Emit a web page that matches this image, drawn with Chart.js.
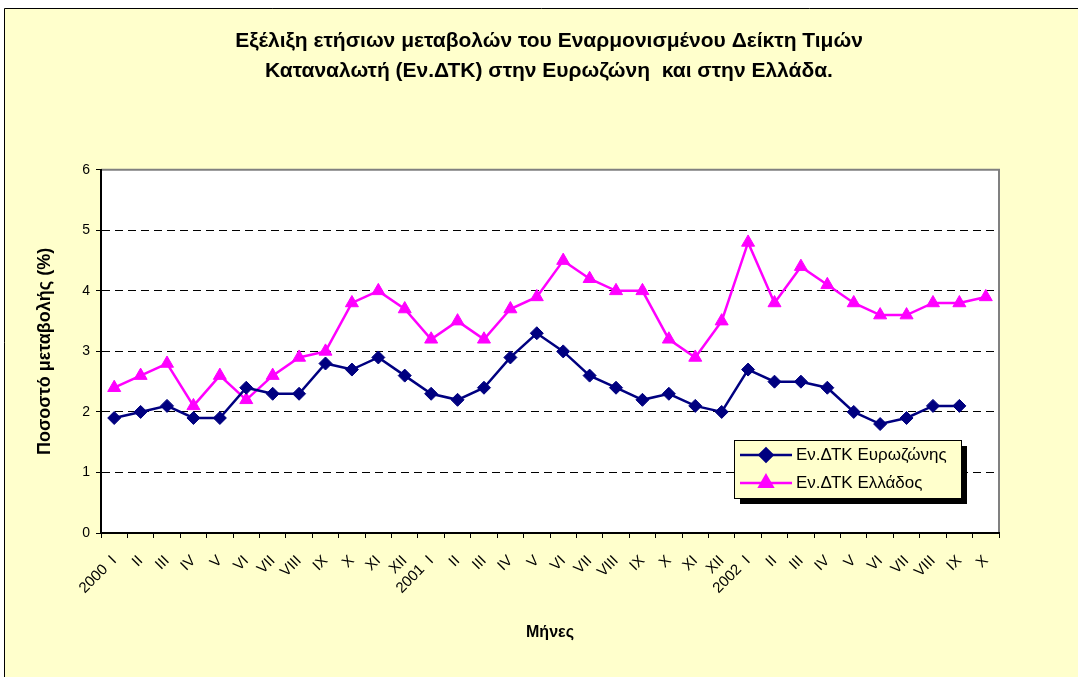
<!DOCTYPE html>
<html>
<head>
<meta charset="utf-8">
<script src="https://cdn.jsdelivr.net/npm/chart.js@4/dist/chart.umd.min.js"></script>
<style>
    body { margin: 0; background: #ffffff; }
    canvas { display: block; }
</style>
</head>
<body>
<canvas id="graficoEvdtk" width="1078" height="677"></canvas>
<script>
const titulo = [
    "Εξέλιξη ετήσιων μεταβολών του Εναρμονισμένου Δείκτη Τιμών",
    "Καταναλωτή (Εν.ΔΤΚ) στην Ευρωζώνη  και στην Ελλάδα."
];

const meses = [
    "2000  I", "II", "III", "IV", "V", "VI", "VII", "VIII", "IX", "X", "XI", "XII",
    "2001  I", "II", "III", "IV", "V", "VI", "VII", "VIII", "IX", "X", "XI", "XII",
    "2002  I", "II", "III", "IV", "V", "VI", "VII", "VIII", "IX", "X"
];

const eurozona = [
    1.9, 2.0, 2.1, 1.9, 1.9, 2.4, 2.3, 2.3, 2.8, 2.7, 2.9, 2.6,
    2.3, 2.2, 2.4, 2.9, 3.3, 3.0, 2.6, 2.4, 2.2, 2.3, 2.1, 2.0,
    2.7, 2.5, 2.5, 2.4, 2.0, 1.8, 1.9, 2.1, 2.1, null
];

const grecia = [
    2.4, 2.6, 2.8, 2.1, 2.6, 2.2, 2.6, 2.9, 3.0, 3.8, 4.0, 3.7,
    3.2, 3.5, 3.2, 3.7, 3.9, 4.5, 4.2, 4.0, 4.0, 3.2, 2.9, 3.5,
    4.8, 3.8, 4.4, 4.1, 3.8, 3.6, 3.6, 3.8, 3.8, 3.9
];

const nomesSeries = ["Εν.ΔΤΚ Ευρωζώνης", "Εν.ΔΤΚ Ελλάδος"];
const tituloY = "Ποσοστό μεταβολής (%)";
const tituloX = "Μήνες";
const ticksY = [0, 1, 2, 3, 4, 5, 6];

const fonte = "'Liberation Sans', Arial, sans-serif";
Chart.defaults.font.family = fonte;
Chart.defaults.color = "#000000";

// fundo amarelo, moldura e área do gráfico
const molduraPlugin = {
    id: "moldura",
    beforeDraw(chart) {
        const ctx = chart.ctx;
        const area = chart.chartArea;
        ctx.save();
        ctx.fillStyle = "#ffffff";
        ctx.fillRect(0, 0, chart.width, chart.height);
        ctx.fillStyle = "#FFFFCC";
        ctx.fillRect(4, 8, chart.width - 4, chart.height - 8);
        ctx.strokeStyle = "#000000";
        ctx.lineWidth = 1;
        ctx.beginPath();
        ctx.moveTo(4.5, chart.height);
        ctx.lineTo(4.5, 8.5);
        ctx.lineTo(chart.width, 8.5);
        ctx.stroke();

        ctx.fillStyle = "#ffffff";
        ctx.fillRect(area.left, area.top, area.width, area.height);
        ctx.strokeStyle = "#808080";
        ctx.lineWidth = 2;
        ctx.beginPath();
        ctx.moveTo(area.left, area.top);
        ctx.lineTo(area.right, area.top);
        ctx.lineTo(area.right, area.bottom);
        ctx.stroke();
        ctx.restore();
    }
};

// legenda dentro da área, com sombra
const legendaPlugin = {
    id: "legendaCaixa",
    afterDraw(chart) {
        const ctx = chart.ctx;
        const area = chart.chartArea;
        const x = area.right - 265;
        const y = area.bottom - 93;
        const w = 227;
        const h = 58;
        ctx.save();
        ctx.fillStyle = "#000000";
        ctx.fillRect(x + 6, y + 6, w, h);
        ctx.fillStyle = "#FFFFCC";
        ctx.fillRect(x, y, w, h);
        ctx.strokeStyle = "#000000";
        ctx.lineWidth = 1;
        ctx.strokeRect(x + 0.5, y + 0.5, w, h);

        chart.data.datasets.forEach((ds, i) => {
            const ly = y + 15 + i * 28;
            ctx.strokeStyle = ds.borderColor;
            ctx.lineWidth = ds.borderWidth;
            ctx.beginPath();
            ctx.moveTo(x + 6, ly);
            ctx.lineTo(x + 58, ly);
            ctx.stroke();
            Chart.helpers.drawPoint(ctx, {
                pointStyle: ds.pointStyle,
                radius: ds.pointRadius,
                rotation: 0,
                borderWidth: 1
            }, x + 32, ly);
            ctx.fillStyle = ds.pointBackgroundColor;
            ctx.strokeStyle = ds.pointBorderColor;
            ctx.fill();
            ctx.fillStyle = "#000000";
            ctx.font = "17px " + fonte;
            ctx.textBaseline = "middle";
            ctx.textAlign = "left";
            ctx.fillText(ds.label, x + 62, ly);
        });
        ctx.restore();
    }
};

const ctx = document.getElementById("graficoEvdtk").getContext("2d");

new Chart(ctx, {
    type: "line",
    data: {
        labels: meses,
        datasets: [{
            label: nomesSeries[0],
            data: eurozona,
            borderColor: "#000080",
            backgroundColor: "#000080",
            pointBackgroundColor: "#000080",
            pointBorderColor: "#000080",
            borderWidth: 2.5,
            pointStyle: "rectRot",
            pointRadius: 6.5,
            pointBorderWidth: 1,
            tension: 0,
            spanGaps: false
        }, {
            label: nomesSeries[1],
            data: grecia,
            borderColor: "#FF00FF",
            backgroundColor: "#FF00FF",
            pointBackgroundColor: "#FF00FF",
            pointBorderColor: "#FF00FF",
            borderWidth: 2.5,
            pointStyle: "triangle",
            pointRadius: 7.5,
            pointBorderWidth: 1,
            tension: 0
        }]
    },
    options: {
        responsive: false,
        animation: false,
        devicePixelRatio: 1,
        layout: {
            padding: { left: 20, right: 0, top: 0, bottom: 0 }
        },
        plugins: {
            legend: { display: false },
            tooltip: { enabled: false },
            title: {
                display: true,
                text: titulo,
                color: "#000000",
                font: { size: 21, weight: "bold", lineHeight: 1.4 },
                padding: { top: 27, bottom: 84 }
            }
        },
        scales: {
            x: {
                type: "category",
                offset: true,
                afterFit(scale) { scale.height = 144; },
                grid: {
                    offset: true,
                    drawOnChartArea: false,
                    color: "#000000",
                    tickColor: "#000000",
                    tickLength: 5,
                    lineWidth: 1
                },
                border: { color: "#000000", width: 2 },
                ticks: {
                    autoSkip: false,
                    maxRotation: 45,
                    minRotation: 45,
                    padding: 14,
                    color: "#000000",
                    font: { size: 15 }
                },
                title: {
                    display: true,
                    text: tituloX,
                    color: "#000000",
                    font: { size: 16, weight: "bold" },
                    padding: { top: 4, bottom: 35 }
                }
            },
            y: {
                min: ticksY[0],
                max: ticksY[ticksY.length - 1],
                afterFit(scale) { scale.width = 81; },
                afterBuildTicks(scale) {
                    scale.ticks = ticksY.map((v) => ({ value: v }));
                },
                grid: {
                    color: (c) => (c.tick && c.tick.value > 0 && c.tick.value < 6) ? "#000000" : "rgba(0,0,0,0)",
                    tickColor: "#000000",
                    tickLength: 5,
                    tickBorderDash: [],
                    lineWidth: 1
                },
                border: { color: "#000000", width: 2, dash: [8, 5] },
                ticks: {
                    padding: 6,
                    color: "#000000",
                    font: { size: 14 }
                },
                title: {
                    display: true,
                    text: tituloY,
                    color: "#000000",
                    font: { size: 18, weight: "bold" },
                    padding: { top: 14, bottom: 0 }
                }
            },
            direita: {
                type: "linear",
                position: "right",
                afterFit(scale) { scale.width = 79; },
                grid: { display: false, drawTicks: false },
                border: { display: false },
                ticks: { display: false }
            }
        }
    },
    plugins: [molduraPlugin, legendaPlugin]
});
</script>
</body>
</html>
